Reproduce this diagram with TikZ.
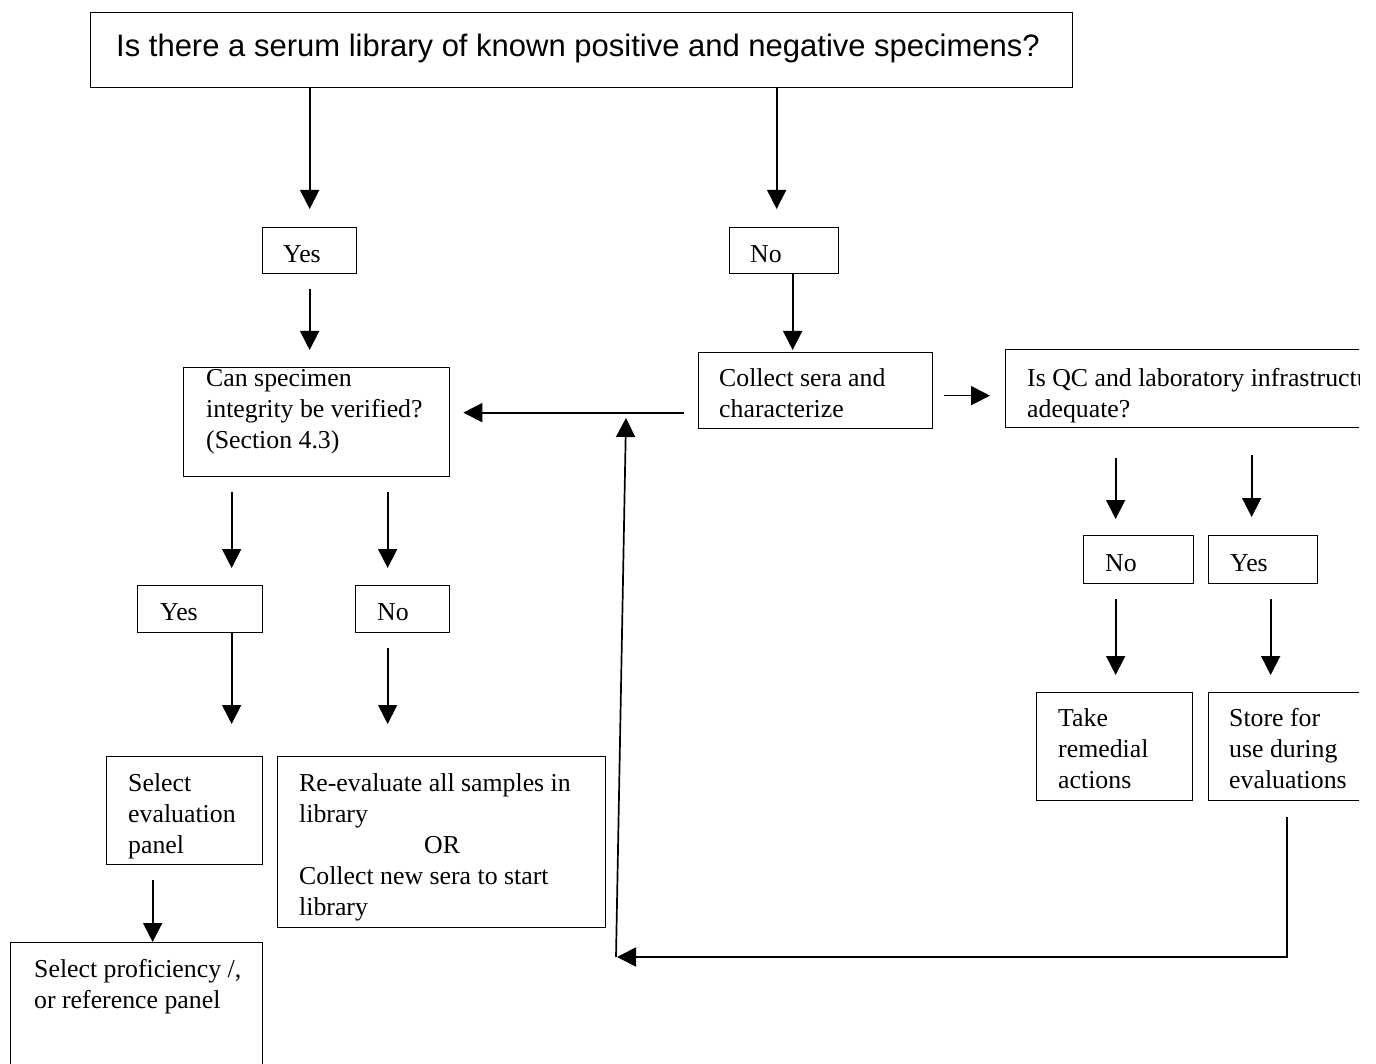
\documentclass[tikz,border=0pt]{standalone}
\usepackage{fontspec}
\setmainfont{Liberation Serif}
\newfontfamily\arialfont{Liberation Sans}
\usetikzlibrary{arrows.meta}
\newcommand{\firstline}{\rule{0pt}{22pt}}
\begin{document}
\begin{tikzpicture}[x=1pt,y=-1pt,
  box/.style={draw=black, line width=1.3pt, anchor=north west, inner sep=0pt},
  txt/.style={anchor=north west, inner sep=0pt, align=left,
              font=\fontsize{25.8}{31}\selectfont},
  arr/.style={draw=black, line width=1.7pt,
              -{Triangle[width=19pt,length=19pt]}},
  link/.style={draw=black, line width=1.7pt}]
\useasboundingbox (0,0) rectangle (1376,1064);
\fill[white] (0,0) rectangle (1376,1064);
\begin{scope}
\clip (0,0) rectangle (1359,1064);

% boxes
\node[box, minimum width=982pt, minimum height=75pt] (top) at (90,12) {};
\node[box, minimum width=94pt,  minimum height=46pt] (yes1) at (262,227) {};
\node[box, minimum width=109pt, minimum height=46pt] (no1) at (729,227) {};
\node[box, minimum width=266pt, minimum height=109pt] (can) at (183,367) {};
\node[box, minimum width=234pt, minimum height=76pt] (collect) at (698,352) {};
\node[box, minimum width=375pt, minimum height=78pt] (qc) at (1005,349) {};
\node[box, minimum width=125pt, minimum height=47pt] (yes2) at (137,585) {};
\node[box, minimum width=94pt,  minimum height=47pt] (no2) at (355,585) {};
\node[box, minimum width=110pt, minimum height=48pt] (no3) at (1083,535) {};
\node[box, minimum width=109pt, minimum height=48pt] (yes3) at (1208,535) {};
\node[box, minimum width=156pt, minimum height=108pt] (take) at (1036,692) {};
\node[box, minimum width=172pt, minimum height=108pt] (store) at (1208,692) {};
\node[box, minimum width=156pt, minimum height=108pt] (seleval) at (106,756) {};
\node[box, minimum width=328pt, minimum height=171pt] (reeval) at (277,756) {};
\node[box, minimum width=252pt, minimum height=135pt] (prof) at (10,942) {};

% texts
\node[anchor=north west, inner sep=0pt, font=\arialfont\fontsize{31}{37}\selectfont]
  (toptxt) at (116,28) {\rule{0pt}{28pt}Is there a serum library of known positive and negative specimens?};
\node[txt] (yes1txt) at (283,240) {\firstline Yes};
\node[txt] (no1txt) at (750,240) {\firstline No};
\node[txt] (cantxt) at (206,364) {\firstline Can specimen\\integrity be verified?\\(Section 4.3)};
\node[txt] (collecttxt) at (719,364) {\firstline Collect sera and\\characterize};
\node[txt] (qctxt) at (1027,364) {\firstline Is QC and laboratory infrastructure\\adequate?};
\node[txt] (yes2txt) at (160,598) {\firstline Yes};
\node[txt] (no2txt) at (377,598) {\firstline No};
\node[txt] (no3txt) at (1105,549) {\firstline No};
\node[txt] (yes3txt) at (1230,549) {\firstline Yes};
\node[txt] (taketxt) at (1058,704) {\firstline Take\\remedial\\actions};
\node[txt] (storetxt) at (1229,704) {\firstline Store for\\use during\\evaluations};
\node[txt] (selevaltxt) at (128,769) {\firstline Select\\evaluation\\panel};
\node[txt] (reevaltxt) at (299,769) {\firstline Re-evaluate all samples in\\library\\\hspace*{125pt}OR\\Collect new sera to start\\library};
\node[txt] (proftxt) at (34,955) {\firstline Select proficiency /,\\or reference panel};

% connectors
\draw[arr, shorten >=18pt] ([xshift=-272pt]top.south) -- (yes1.north);
\draw[arr, shorten >=18pt] ([xshift=195pt]top.south) -- ([xshift=-7.5pt]no1.north);
\draw[arr, shorten <=15pt, shorten >=17pt] (yes1.south) -- ([xshift=-7pt]can.north);
\draw[arr, shorten >=2pt] ([xshift=8.5pt]no1.south) -- ([xshift=-23pt]collect.north);
\draw[arr, shorten <=14pt, shorten >=13pt] ([yshift=-22pt]collect.west) -- ([yshift=9.5pt]can.east);
\draw[arr, shorten <=11pt, shorten >=15pt] ([yshift=-5pt]collect.east) -- ([yshift=-7pt]qc.west);
\draw[arr, shorten <=15pt, shorten >=17pt] ([xshift=-85pt]can.south) -- ([xshift=31.5pt]yes2.north);
\draw[arr, shorten <=15pt, shorten >=17pt] ([xshift=71pt]can.south) -- ([xshift=-15pt]no2.north);
\draw[arr, shorten >=32pt] ([xshift=31.5pt]yes2.south) -- ([xshift=47pt]seleval.north);
\draw[arr, shorten <=15pt, shorten >=32pt] ([xshift=-15pt]no2.south) -- ([xshift=-54pt]reeval.north);
\draw[arr, shorten <=15pt] ([xshift=-32pt]seleval.south) -- ([xshift=16pt]prof.north);
\draw[arr, shorten <=30pt, shorten >=16pt] ([xshift=-77.5pt]qc.south) -- ([xshift=-23pt]no3.north);
\draw[arr, shorten <=27pt, shorten >=18pt] ([xshift=58.5pt]qc.south) -- ([xshift=-11.5pt]yes3.north);
\draw[arr, shorten <=15pt, shorten >=17pt] ([xshift=-23pt]no3.south) -- ([xshift=1pt]take.north);
\draw[arr, shorten <=15pt, shorten >=17pt] ([xshift=7.5pt]yes3.south) -- ([xshift=-24pt]store.north);

% return path from storage back to the collection step
\coordinate (loopend) at (617,957);
\coordinate (upfoot) at (616,957);
\coordinate (uptip) at (626,418);
\draw[arr, shorten <=16pt] ([xshift=-8pt]store.south) |- (loopend);
\draw[arr] (upfoot) -- (uptip);
\end{scope}
\end{tikzpicture}
\end{document}
